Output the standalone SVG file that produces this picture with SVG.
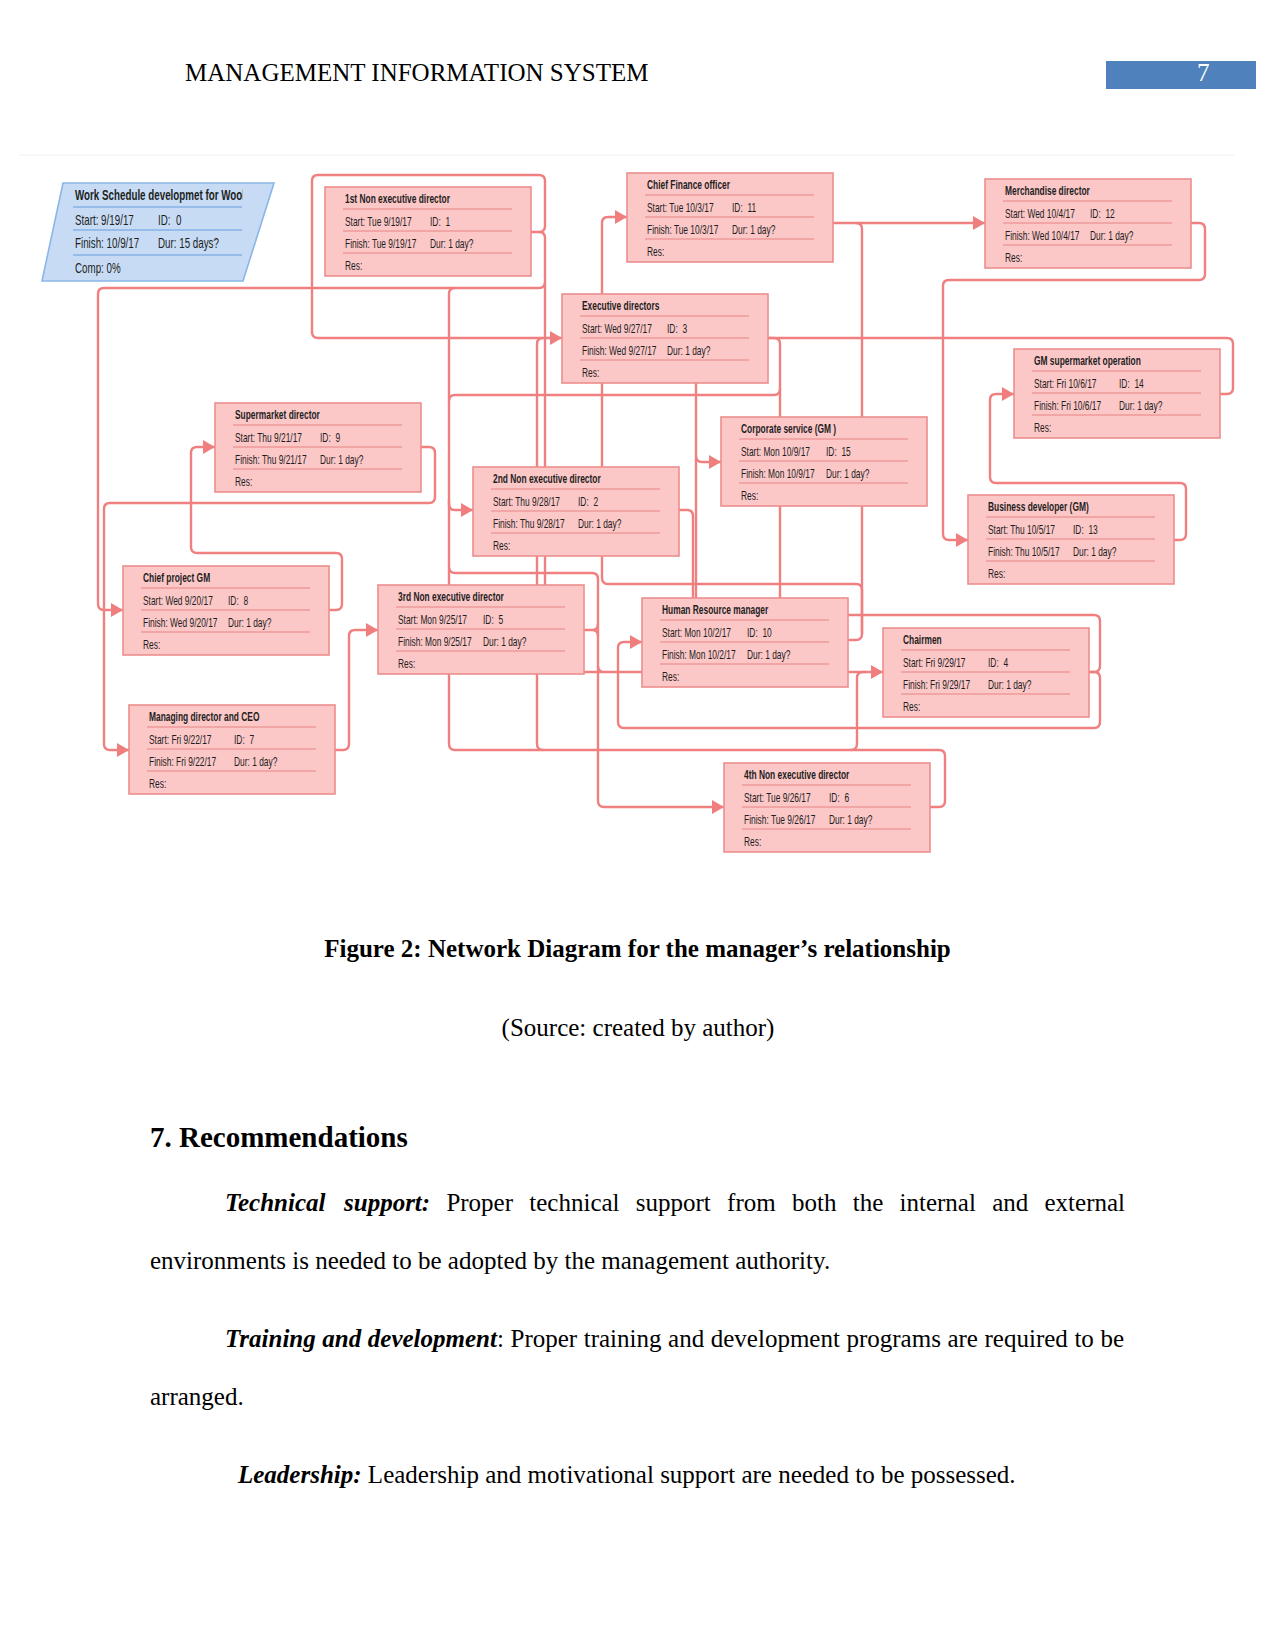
<svg xmlns="http://www.w3.org/2000/svg" width="1275" height="1650" viewBox="0 0 1275 1650">
<style>
.box{fill:#fbc7c7;stroke:#ee8e8e;stroke-width:1.6}
.sep{stroke:#f09a9a;stroke-width:1.4;fill:none}
.c{fill:none;stroke:#f08080;stroke-width:2.4}
.ca{fill:none;stroke:#f08080;stroke-width:2.4;marker-end:url(#ah)}
.nt{font-family:"Liberation Sans",Arial,sans-serif;font-size:12px;fill:#1e1e1e}
.pt{font-family:"Liberation Sans",Arial,sans-serif;font-size:14px;fill:#1e1e1e}
.b{font-weight:bold}
.doc{font-family:"Liberation Serif","Times New Roman",serif;font-size:25px;fill:#000}
.bi{font-weight:bold;font-style:italic}
</style>
<defs>
<marker id="ah" viewBox="0 0 12 14" refX="12" refY="7" markerWidth="12" markerHeight="14" markerUnits="userSpaceOnUse" orient="auto"><path d="M0,0L12,7L0,14z" fill="#f07e7e"/></marker>
<clipPath id="clipT"><rect x="60" y="185" width="183" height="20"/></clipPath>
</defs>
<rect width="1275" height="1650" fill="#ffffff"/>

<g id="header">
<text class="doc" x="185" y="81">MANAGEMENT INFORMATION SYSTEM</text>
<rect x="1106" y="61" width="150" height="28" fill="#4f81bd"/>
<text class="doc" x="1197" y="81" style="fill:#ffffff">7</text>
</g>

<line x1="19" y1="155" x2="1234" y2="155" stroke="#f0f0f0" stroke-width="1"/>

<g id="connectors">
<path class="ca" d="M531,232 H539 Q545,232 545,226 V181 Q545,175 539,175 H318 Q312,175 312,181 V332 Q312,338 318,338 H562"/>
<path class="c" d="M539,232 Q545,232 545,238 V585"/>
<path class="ca" d="M545,282 Q545,288 539,288 H104 Q98,288 98,294 V604 Q98,610 104,610 H123"/>
<path class="ca" d="M455,288 Q449,288 449,294 V504 Q449,510 455,510 H473"/>
<path class="c" d="M449,500 V744 Q449,750 455,750 H939 Q945,750 945,756 V801 Q945,807 939,807 H930"/>
<path class="ca" d="M449,567 Q449,573 455,573 H592 Q598,573 598,579 V801 Q598,807 604,807 H724"/>
<path class="c" d="M543,750 Q537,750 537,744 V344 Q537,338 543,338"/>
<path class="ca" d="M851,750 Q857,750 857,744 V678 Q857,672 863,672 H883"/>
<path class="c" d="M583,630 H592 Q598,630 598,624 M592,630 Q598,630 598,636"/>
<path class="c" d="M583,672 H866 M598,666 Q598,672 604,672"/>
<path class="c" d="M767,338 H774 Q780,338 780,344 V598"/>
<path class="c" d="M780,389 Q780,395 774,395 H455 Q449,395 449,401"/>
<path class="c" d="M1220,394 H1227 Q1233,394 1233,388 V344 Q1233,338 1227,338 H767"/>
<path class="c" d="M696,383 V598"/>
<path class="ca" d="M696,456 Q696,462 702,462 H721"/>
<path class="c" d="M679,510 H687 Q693,510 693,516 V598"/>
<path class="ca" d="M848,640 H856 Q862,640 862,634 V590 Q862,584 856,584 H608 Q602,584 602,578 V223 Q602,217 608,217 H627"/>
<path class="ca" d="M832,223 H985"/>
<path class="c" d="M856,223 Q862,223 862,229 V634"/>
<path class="ca" d="M1190,223 H1199 Q1205,223 1205,229 V274 Q1205,280 1199,280 H949 Q943,280 943,286 V534 Q943,540 949,540 H968"/>
<path class="ca" d="M1174,540 H1180 Q1186,540 1186,534 V489 Q1186,483 1180,483 H996 Q990,483 990,477 V400 Q990,394 996,394 H1014"/>
<path class="c" d="M848,615 H1094 Q1100,615 1100,621 V666 Q1100,672 1094,672 H1089"/>
<path class="ca" d="M1089,672 H1094 Q1100,672 1100,678 V722 Q1100,728 1094,728 H624 Q618,728 618,722 V648 Q618,642 624,642 H642"/>
<path class="ca" d="M421,447 H429 Q435,447 435,453 V497 Q435,503 429,503 H110 Q104,503 104,509 V744 Q104,750 110,750 H129"/>
<path class="ca" d="M329,610 H336 Q342,610 342,604 V559 Q342,553 336,553 H197 Q191,553 191,547 V453 Q191,447 197,447 H215"/>
<path class="ca" d="M335,750 H343 Q349,750 349,744 V636 Q349,630 355,630 H378"/>
</g>

<g id="n0">
<polygon points="63,183 274,183 243,281 42,281" fill="#c7dcf4" stroke="#8ab6e8" stroke-width="1.6"/>
<path d="M73,207H242M73,230H242M73,255H242" stroke="#86b2e6" stroke-width="1.4" fill="none"/>
<g clip-path="url(#clipT)"><g transform="scale(0.7,1)" class="pt"><text class="b" x="107.1" y="200">Work Schedule developmet for Wool</text></g></g>
<g transform="scale(0.7,1)" class="pt">
<text x="107.1" y="225">Start: 9/19/17</text><text x="225.7" y="225">ID:&#160; 0</text>
<text x="107.1" y="248">Finish: 10/9/17</text><text x="225.7" y="248">Dur: 15 days?</text>
<text x="107.1" y="273">Comp: 0%</text>
</g>
</g>

<g id="n1" transform="translate(325,187)">
<rect class="box" width="206" height="89"/><path class="sep" d="M18,22H187M18,44H187M18,66H187"/>
<g transform="scale(0.7,1)" class="nt"><text class="b" x="28.6" y="16">1st Non executive director</text>
<text x="28.6" y="39">Start: Tue 9/19/17</text><text x="150" y="39">ID:&#160; 1</text>
<text x="28.6" y="61">Finish: Tue 9/19/17</text><text x="150" y="61">Dur: 1 day?</text>
<text x="28.6" y="83">Res:</text></g>
</g>

<g id="n11" transform="translate(627,173)">
<rect class="box" width="206" height="89"/><path class="sep" d="M18,22H187M18,44H187M18,66H187"/>
<g transform="scale(0.7,1)" class="nt"><text class="b" x="28.6" y="16">Chief Finance officer</text>
<text x="28.6" y="39">Start: Tue 10/3/17</text><text x="150" y="39">ID:&#160; 11</text>
<text x="28.6" y="61">Finish: Tue 10/3/17</text><text x="150" y="61">Dur: 1 day?</text>
<text x="28.6" y="83">Res:</text></g>
</g>

<g id="n12" transform="translate(985,179)">
<rect class="box" width="206" height="89"/><path class="sep" d="M18,22H187M18,44H187M18,66H187"/>
<g transform="scale(0.7,1)" class="nt"><text class="b" x="28.6" y="16">Merchandise director</text>
<text x="28.6" y="39">Start: Wed 10/4/17</text><text x="150" y="39">ID:&#160; 12</text>
<text x="28.6" y="61">Finish: Wed 10/4/17</text><text x="150" y="61">Dur: 1 day?</text>
<text x="28.6" y="83">Res:</text></g>
</g>

<g id="n3" transform="translate(562,294)">
<rect class="box" width="206" height="89"/><path class="sep" d="M18,22H187M18,44H187M18,66H187"/>
<g transform="scale(0.7,1)" class="nt"><text class="b" x="28.6" y="16">Executive directors</text>
<text x="28.6" y="39">Start: Wed 9/27/17</text><text x="150" y="39">ID:&#160; 3</text>
<text x="28.6" y="61">Finish: Wed 9/27/17</text><text x="150" y="61">Dur: 1 day?</text>
<text x="28.6" y="83">Res:</text></g>
</g>

<g id="n14" transform="translate(1014,349)">
<rect class="box" width="206" height="89"/><path class="sep" d="M18,22H187M18,44H187M18,66H187"/>
<g transform="scale(0.7,1)" class="nt"><text class="b" x="28.6" y="16">GM supermarket operation</text>
<text x="28.6" y="39">Start: Fri 10/6/17</text><text x="150" y="39">ID:&#160; 14</text>
<text x="28.6" y="61">Finish: Fri 10/6/17</text><text x="150" y="61">Dur: 1 day?</text>
<text x="28.6" y="83">Res:</text></g>
</g>

<g id="n9" transform="translate(215,403)">
<rect class="box" width="206" height="89"/><path class="sep" d="M18,22H187M18,44H187M18,66H187"/>
<g transform="scale(0.7,1)" class="nt"><text class="b" x="28.6" y="16">Supermarket director</text>
<text x="28.6" y="39">Start: Thu 9/21/17</text><text x="150" y="39">ID:&#160; 9</text>
<text x="28.6" y="61">Finish: Thu 9/21/17</text><text x="150" y="61">Dur: 1 day?</text>
<text x="28.6" y="83">Res:</text></g>
</g>

<g id="n2" transform="translate(473,467)">
<rect class="box" width="206" height="89"/><path class="sep" d="M18,22H187M18,44H187M18,66H187"/>
<g transform="scale(0.7,1)" class="nt"><text class="b" x="28.6" y="16">2nd Non executive director</text>
<text x="28.6" y="39">Start: Thu 9/28/17</text><text x="150" y="39">ID:&#160; 2</text>
<text x="28.6" y="61">Finish: Thu 9/28/17</text><text x="150" y="61">Dur: 1 day?</text>
<text x="28.6" y="83">Res:</text></g>
</g>

<g id="n15" transform="translate(721,417)">
<rect class="box" width="206" height="89"/><path class="sep" d="M18,22H187M18,44H187M18,66H187"/>
<g transform="scale(0.7,1)" class="nt"><text class="b" x="28.6" y="16">Corporate service (GM )</text>
<text x="28.6" y="39">Start: Mon 10/9/17</text><text x="150" y="39">ID:&#160; 15</text>
<text x="28.6" y="61">Finish: Mon 10/9/17</text><text x="150" y="61">Dur: 1 day?</text>
<text x="28.6" y="83">Res:</text></g>
</g>

<g id="n13" transform="translate(968,495)">
<rect class="box" width="206" height="89"/><path class="sep" d="M18,22H187M18,44H187M18,66H187"/>
<g transform="scale(0.7,1)" class="nt"><text class="b" x="28.6" y="16">Business developer (GM)</text>
<text x="28.6" y="39">Start: Thu 10/5/17</text><text x="150" y="39">ID:&#160; 13</text>
<text x="28.6" y="61">Finish: Thu 10/5/17</text><text x="150" y="61">Dur: 1 day?</text>
<text x="28.6" y="83">Res:</text></g>
</g>

<g id="n8" transform="translate(123,566)">
<rect class="box" width="206" height="89"/><path class="sep" d="M18,22H187M18,44H187M18,66H187"/>
<g transform="scale(0.7,1)" class="nt"><text class="b" x="28.6" y="16">Chief project GM</text>
<text x="28.6" y="39">Start: Wed 9/20/17</text><text x="150" y="39">ID:&#160; 8</text>
<text x="28.6" y="61">Finish: Wed 9/20/17</text><text x="150" y="61">Dur: 1 day?</text>
<text x="28.6" y="83">Res:</text></g>
</g>

<g id="n5" transform="translate(378,585)">
<rect class="box" width="206" height="89"/><path class="sep" d="M18,22H187M18,44H187M18,66H187"/>
<g transform="scale(0.7,1)" class="nt"><text class="b" x="28.6" y="16">3rd Non executive director</text>
<text x="28.6" y="39">Start: Mon 9/25/17</text><text x="150" y="39">ID:&#160; 5</text>
<text x="28.6" y="61">Finish: Mon 9/25/17</text><text x="150" y="61">Dur: 1 day?</text>
<text x="28.6" y="83">Res:</text></g>
</g>

<g id="n10" transform="translate(642,598)">
<rect class="box" width="206" height="89"/><path class="sep" d="M18,22H187M18,44H187M18,66H187"/>
<g transform="scale(0.7,1)" class="nt"><text class="b" x="28.6" y="16">Human Resource manager</text>
<text x="28.6" y="39">Start: Mon 10/2/17</text><text x="150" y="39">ID:&#160; 10</text>
<text x="28.6" y="61">Finish: Mon 10/2/17</text><text x="150" y="61">Dur: 1 day?</text>
<text x="28.6" y="83">Res:</text></g>
</g>

<g id="n4" transform="translate(883,628)">
<rect class="box" width="206" height="89"/><path class="sep" d="M18,22H187M18,44H187M18,66H187"/>
<g transform="scale(0.7,1)" class="nt"><text class="b" x="28.6" y="16">Chairmen</text>
<text x="28.6" y="39">Start: Fri 9/29/17</text><text x="150" y="39">ID:&#160; 4</text>
<text x="28.6" y="61">Finish: Fri 9/29/17</text><text x="150" y="61">Dur: 1 day?</text>
<text x="28.6" y="83">Res:</text></g>
</g>

<g id="n7" transform="translate(129,705)">
<rect class="box" width="206" height="89"/><path class="sep" d="M18,22H187M18,44H187M18,66H187"/>
<g transform="scale(0.7,1)" class="nt"><text class="b" x="28.6" y="16">Managing director and CEO</text>
<text x="28.6" y="39">Start: Fri 9/22/17</text><text x="150" y="39">ID:&#160; 7</text>
<text x="28.6" y="61">Finish: Fri 9/22/17</text><text x="150" y="61">Dur: 1 day?</text>
<text x="28.6" y="83">Res:</text></g>
</g>

<g id="n6" transform="translate(724,763)">
<rect class="box" width="206" height="89"/><path class="sep" d="M18,22H187M18,44H187M18,66H187"/>
<g transform="scale(0.7,1)" class="nt"><text class="b" x="28.6" y="16">4th Non executive director</text>
<text x="28.6" y="39">Start: Tue 9/26/17</text><text x="150" y="39">ID:&#160; 6</text>
<text x="28.6" y="61">Finish: Tue 9/26/17</text><text x="150" y="61">Dur: 1 day?</text>
<text x="28.6" y="83">Res:</text></g>
</g>

<g id="body">
<text class="doc b" x="637.5" y="957" text-anchor="middle">Figure 2: Network Diagram for the manager’s relationship</text>
<text class="doc" x="638" y="1036" text-anchor="middle">(Source: created by author)</text>
<text class="doc b" x="150" y="1147" style="font-size:29px">7. Recommendations</text>
<text class="doc" y="1211"><tspan class="bi" x="225">Technical</tspan><tspan class="bi" x="344">support:</tspan><tspan x="446.4">Proper</tspan><tspan x="529.3">technical</tspan><tspan x="635.8">support</tspan><tspan x="727.1">from</tspan><tspan x="792">both</tspan><tspan x="852.7">the</tspan><tspan x="899.5">internal</tspan><tspan x="992.2">and</tspan><tspan x="1044.5">external</tspan></text>
<text class="doc" x="150" y="1269">environments is needed to be adopted by the management authority.</text>
<text class="doc" x="225" y="1347" word-spacing="0.33"><tspan class="bi">Training and development</tspan>: Proper training and development programs are required to be</text>
<text class="doc" x="150" y="1405">arranged.</text>
<text class="doc" x="238" y="1483"><tspan class="bi">Leadership:</tspan> Leadership and motivational support are needed to be possessed.</text>
</g>
</svg>
